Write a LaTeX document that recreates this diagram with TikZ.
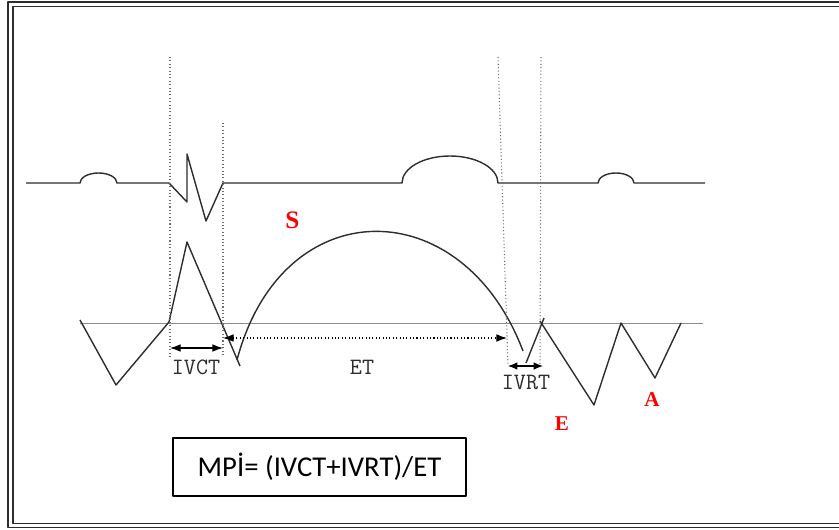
\documentclass[tikz,border=0pt]{standalone}
\usepackage{fontspec}
\setmainfont{Liberation Serif}
\newfontfamily\mpifont{Carlito}
\usetikzlibrary{arrows.meta,calc,positioning}
\definecolor{tracegray}{RGB}{45,45,45}
\definecolor{guidegray}{RGB}{110,110,110}
\definecolor{zerogray}{RGB}{140,140,140}
\tikzset{
  trace/.style={line width=1.2pt,color=tracegray},
  zero line/.style={line width=.6pt,color=zerogray},
  guide/.style={line width=.9pt,dotted,color=guidegray},
  interval/.style={line width=.9pt,{Latex[length=9pt,width=6.5pt]}-{Latex[length=9pt,width=6.5pt]}},
  interval label/.style={font=\ttfamily\fontsize{20}{20}\selectfont,inner sep=0pt,text=tracegray},
  wave label/.style={font=\bfseries\fontsize{18}{18}\selectfont,text=red,inner sep=0pt},
  frame line/.style={line width=1.2pt,color=tracegray}
}

\begin{document}
\begin{tikzpicture}[x=0.03cm,y=-0.03cm,line join=round]
  \useasboundingbox (0,0) rectangle (839,529);
  \draw[frame line] (8,2) rectangle (860,527.5);
  \draw[frame line] (13,6.7) rectangle (855,523.5);

  \coordinate (mc-top)  at (170,57);
  \coordinate (mc-foot) at (170,357);
  \coordinate (ao-top)  at (223,123);
  \coordinate (ao-foot) at (223,357);
  \coordinate (ac-top)  at (498,57);
  \coordinate (ac-foot) at (508,366);
  \coordinate (mo-top)  at (541,57);
  \coordinate (mo-foot) at (540,366);

  \coordinate (ivct-l) at (170,348);
  \coordinate (ivct-r) at (223,348);
  \coordinate (et-l)   at (223,338);
  \coordinate (et-r)   at (507,338);
  \coordinate (ivrt-l) at (508,366);
  \coordinate (ivrt-r) at (543,366);

  \draw[trace] (26,183) -- (80,183) arc[start angle=180,end angle=360,x radius=18.5,y radius=10]
        -- (169,183) -- (187,202) -- (187,154) -- (206,221) -- (223,183) -- (402,183)
        arc[start angle=180,end angle=360,x radius=48,y radius=27]
        -- (598,183) arc[start angle=180,end angle=360,x radius=18,y radius=10] -- (705,183);

  \draw[zero line] (80,323) -- (703,323);
  \draw[trace] (80,320) -- (116,385) -- (169,322) -- (187,242) -- (240,366);
  \draw[trace] (237,360) .. controls (282,190) and (462,190) .. (523,351);
  \draw[trace] (526,363) -- (544,318);
  \draw[trace] (540,321) -- (594,405) -- (621,323) -- (655,378) -- (681,323);

  \foreach \v in {mc,ao,ac,mo} {\draw[guide] (\v-top) -- (\v-foot);}
  \draw[interval] (ivct-l) -- (ivct-r);
  \draw[interval,dotted] (et-l) -- (et-r);
  \draw[interval,{Latex[length=8pt,width=6.5pt]}-{Latex[length=8pt,width=6.5pt]}] (ivrt-l) -- (ivrt-r);

  \node[interval label] (ivct) at (196,367) {IVCT};
  \node[interval label] (et) at (362,367) {ET};
  \node[interval label] (ivrt) at (526,382) {IVRT};
  \node[wave label,font=\bfseries\fontsize{21.5}{21.5}\selectfont] (s) at (292.5,220.5) {S};
  \node[wave label] (e) at (562,424) {E};
  \node[wave label] (a) at (652,400) {A};
  \node[draw=black,line width=1.3pt,inner sep=0pt,minimum width=8.79cm,minimum height=1.74cm,
        font=\mpifont\fontsize{24.5}{24.5}\selectfont] (mpi) at (319.5,467) {MPİ= (IVCT+IVRT)/ET};
\end{tikzpicture}
\end{document}
